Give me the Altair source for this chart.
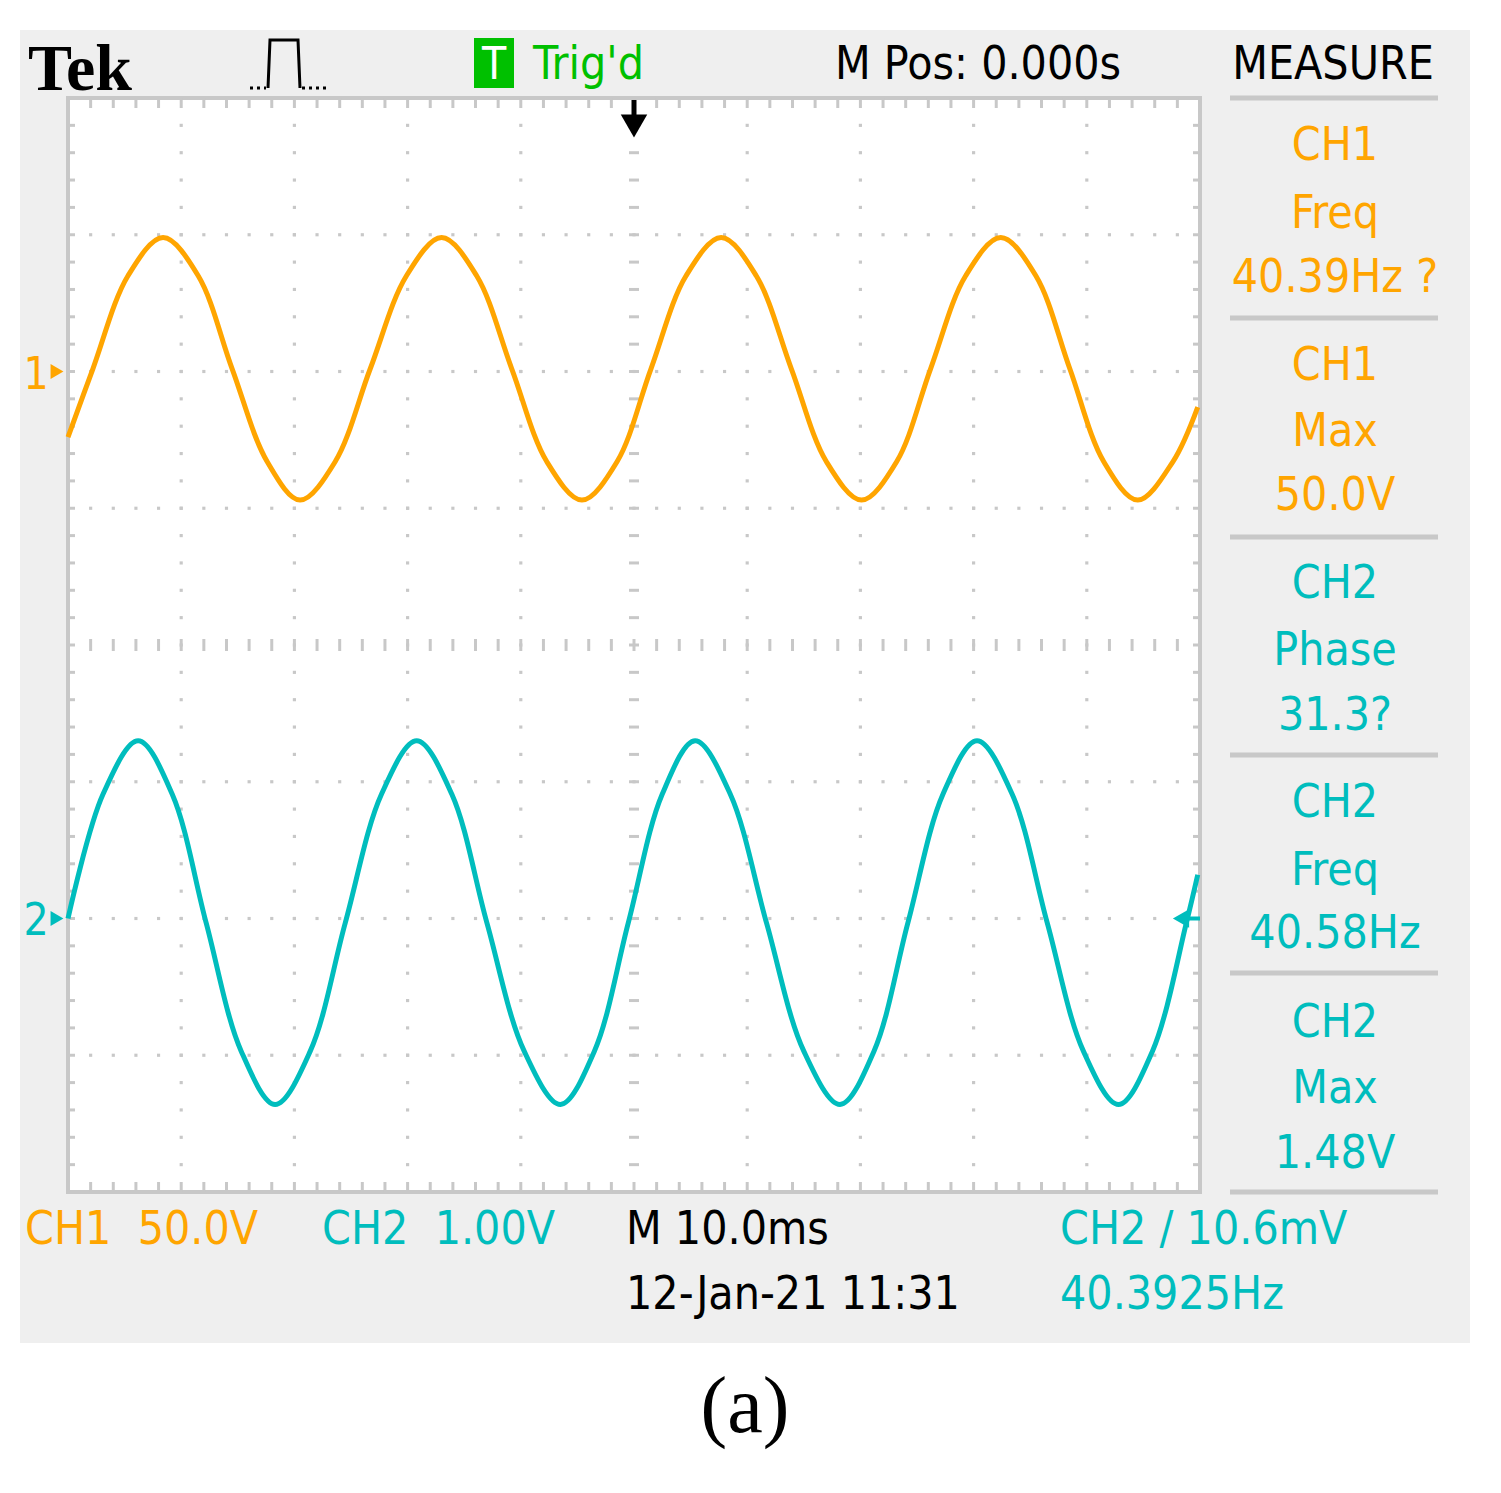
import altair as alt
import pandas as pd
import numpy as np

# ---------------- data (divisions) ----------------
ch1_t = [0.00, 0.22, 0.53, 0.84, 1.15, 1.45, 1.76, 2.05, 2.36, 2.67, 2.99, 3.30,
         3.61, 3.92, 4.23, 4.54, 4.85, 5.15, 5.46, 5.77, 6.08, 6.39, 6.70, 7.01,
         7.32, 7.62, 7.93, 8.24, 8.55, 8.85, 9.15, 9.45, 9.76, 9.98]
ch1_v = [1.52, 2.02, 2.70, 2.98, 2.70, 2.02, 1.34, 1.06, 1.34, 2.02, 2.70, 2.98,
         2.70, 2.02, 1.34, 1.06, 1.34, 2.02, 2.70, 2.98, 2.70, 2.02, 1.34, 1.06,
         1.34, 2.02, 2.70, 2.98, 2.70, 2.02, 1.34, 1.06, 1.34, 1.74]

ch2_t = [0.00, 0.31, 0.62, 0.92, 1.22, 1.53, 1.83, 2.14, 2.45, 2.77, 3.08, 3.39,
         3.70, 4.03, 4.35, 4.65, 4.95, 5.25, 5.54, 5.85, 6.17, 6.50, 6.82, 7.12,
         7.42, 7.73, 8.03, 8.34, 8.65, 8.97, 9.28, 9.58, 9.88, 9.98]
ch2_v = [-2.00, -1.09, -0.70, -1.09, -2.03, -2.97, -3.36, -2.97, -2.03, -1.09, -0.70, -1.09,
         -2.03, -2.97, -3.36, -2.97, -2.03, -1.09, -0.70, -1.09, -2.03, -2.97, -3.36, -2.97,
         -2.03, -1.09, -0.70, -1.09, -2.03, -2.97, -3.36, -2.97, -2.03, -1.68]

measure_text = ["CH1", "Freq", "40.39Hz ?", "CH1", "Max", "50.0V",
                "CH2", "Phase", "31.3?", "CH2", "Freq", "40.58Hz",
                "CH2", "Max", "1.48V"]
measure_chan = ["CH1"] * 6 + ["CH2"] * 9

top_text = ["Trig'd", "M Pos: 0.000s", "MEASURE"]
top_chan = ["TRIG", "BLACK", "BLACK"]

bottom_text = ["CH1\u00a0\u00a050.0V", "CH2\u00a0\u00a01.00V", "M 10.0ms", "12-Jan-21 11:31",
               "CH2 / 10.6mV", "40.3925Hz"]
bottom_chan = ["CH1", "CH2", "BLACK", "BLACK", "CH2", "CH2"]

# ---------------- styling / layout ----------------
ORANGE = "#ffa500"
TEAL = "#00bdbd"
GREEN = "#00c000"
GRAY = "#c8c8c8"
BG = "#efefef"
colors = {"CH1": ORANGE, "CH2": TEAL, "BLACK": "#000000", "TRIG": GREEN}

X0, Y0 = 68, 98          # plot origin in page px
W, H = 1132, 1094        # plot size
DX, DY = W / 10.0, H / 8.0
NARROW = "DejaVu Sans Condensed, DejaVu Sans, sans-serif"
FS = 46


def t_of(px):
    return (px - X0) / DX


def v_of(py):
    return 4 - (py - Y0) / DY


xs = alt.Scale(domain=[0, 10], nice=False, zero=False)
ys = alt.Scale(domain=[-4, 4], nice=False, zero=False)
X = lambda f: alt.X(f, type="quantitative", scale=xs, axis=None)
Y = lambda f: alt.Y(f, type="quantitative", scale=ys, axis=None)

one = pd.DataFrame({"d": [0]})

# background panel
bg = alt.Chart(one).mark_rect(color=BG).encode(
    x=alt.value(20 - X0), x2=alt.value(1470 - X0),
    y=alt.value(30 - Y0), y2=alt.value(1343 - Y0))

screen = alt.Chart(one).mark_rect(fill="white", stroke=GRAY, strokeWidth=4).encode(
    x=alt.value(0), x2=alt.value(W), y=alt.value(0), y2=alt.value(H))

# measurement separators
sep_py = [98, 318, 537, 755, 973, 1192]
sep_df = pd.DataFrame({"t": [t_of(1230)] * 6, "t2": [t_of(1438)] * 6,
                       "v": [v_of(p) for p in sep_py]})
seps = alt.Chart(sep_df).mark_rule(color=GRAY, strokeWidth=5).encode(
    x=X("t"), x2="t2", y=Y("v"))

# graticule dots
minor_x = np.round(np.arange(0.2, 10, 0.2), 3)
minor_y = np.round(np.arange(-3.8, 4, 0.2), 3)
dots = []
for gx in [1, 2, 3, 4, 6, 7, 8, 9]:
    for yv in minor_y:
        dots.append((gx, yv))
for gy in [-3, -2, -1, 1, 2, 3]:
    for xv in minor_x:
        dots.append((xv, gy))
dots_df = pd.DataFrame(dots, columns=["t", "v"])
dot_layer = alt.Chart(dots_df).mark_square(size=10, color=GRAY, opacity=1).encode(
    x=X("t"), y=Y("v"))

# tick rules: vertical ones (top/bottom border, center horizontal line)
vt = []
for xv in minor_x:
    vt.append((xv, 4, 4 - 10 / DY))
    vt.append((xv, -4, -4 + 10 / DY))
    vt.append((xv, -6 / DY, 6 / DY))
vt_df = pd.DataFrame(vt, columns=["t", "v", "v2"])
vt_layer = alt.Chart(vt_df).mark_rule(color=GRAY, strokeWidth=3).encode(
    x=X("t"), y=Y("v"), y2="v2")

ht = []
for yv in minor_y:
    ht.append((0, 7 / DX, yv))
    ht.append((10, 10 - 7 / DX, yv))
    ht.append((5 - 5 / DX, 5 + 5 / DX, yv))
ht_df = pd.DataFrame(ht, columns=["t", "t2", "v"])
ht_layer = alt.Chart(ht_df).mark_rule(color=GRAY, strokeWidth=3).encode(
    x=X("t"), x2="t2", y=Y("v"))

# waveforms
ch1_df = pd.DataFrame({"t": ch1_t, "v": ch1_v})
ch2_df = pd.DataFrame({"t": ch2_t, "v": ch2_v})
ch1 = alt.Chart(ch1_df).mark_line(color=ORANGE, strokeWidth=5, interpolate="catmull-rom",
                                  strokeJoin="round").encode(x=X("t"), y=Y("v"), order="t")
ch2 = alt.Chart(ch2_df).mark_line(color=TEAL, strokeWidth=5, interpolate="catmull-rom",
                                  strokeJoin="round").encode(x=X("t"), y=Y("v"), order="t")

# measure panel text
meas_base = [160, 228, 292, 380, 446, 510, 598, 665, 730, 817, 885, 948, 1037, 1103, 1168]
meas_df = pd.DataFrame({"txt": measure_text,
                        "col": [colors[c] for c in measure_chan],
                        "t": [t_of(1335)] * len(measure_text),
                        "v": [v_of(b) for b in meas_base]})
meas = alt.Chart(meas_df).mark_text(font=NARROW, fontSize=FS, align="center",
                                    baseline="alphabetic").encode(
    x=X("t"), y=Y("v"), text="txt:N", color=alt.Color("col:N", scale=None))

# top row text
top_px = [533, 835, 1333]
top_align = ["left", "left", "center"]
top_layers = []
for txt, ch, px, al in zip(top_text, top_chan, top_px, top_align):
    d = pd.DataFrame({"txt": [txt], "t": [t_of(px)], "v": [v_of(79)]})
    top_layers.append(alt.Chart(d).mark_text(font=NARROW, fontSize=FS, align=al,
                                             baseline="alphabetic", color=colors[ch]).encode(
        x=X("t"), y=Y("v"), text="txt:N"))

tek = alt.Chart(pd.DataFrame({"txt": ["Tek"], "t": [t_of(28)], "v": [v_of(90)]})).mark_text(
    font="Liberation Serif", fontWeight="bold", fontSize=66, align="left",
    baseline="alphabetic", color="black").encode(x=X("t"), y=Y("v"), text="txt:N")

tbox = alt.Chart(one).mark_rect(color=GREEN).encode(
    x=alt.value(474 - X0), x2=alt.value(514 - X0), y=alt.value(38 - Y0), y2=alt.value(88 - Y0))
tletter = alt.Chart(pd.DataFrame({"txt": ["T"], "t": [t_of(494)], "v": [v_of(79)]})).mark_text(
    font=NARROW, fontSize=44, align="center", baseline="alphabetic", color="white").encode(
    x=X("t"), y=Y("v"), text="txt:N")

# pulse icon
pulse_px = [268, 270, 298, 300]
pulse_py = [88, 40, 40, 88]
pulse_df = pd.DataFrame({"t": [t_of(p) for p in pulse_px], "v": [v_of(p) for p in pulse_py],
                         "o": range(4)})
pulse = alt.Chart(pulse_df).mark_line(color="black", strokeWidth=3).encode(
    x=X("t"), y=Y("v"), order="o")
pbase_df = pd.DataFrame({"t": [t_of(250), t_of(302)],
                         "t2": [t_of(266), t_of(330)],
                         "v": [v_of(88)] * 2})
pbase = alt.Chart(pbase_df).mark_rule(color="black", strokeWidth=3, strokeDash=[3, 4]).encode(
    x=X("t"), x2="t2", y=Y("v"))

# bottom row text
bot_px = [25, 322, 626, 626, 1060, 1060]
bot_base = [1244, 1244, 1244, 1309, 1244, 1309]
bot_df = pd.DataFrame({"txt": bottom_text, "col": [colors[c] for c in bottom_chan],
                       "t": [t_of(p) for p in bot_px], "v": [v_of(b) for b in bot_base]})
bottom = alt.Chart(bot_df).mark_text(font=NARROW, fontSize=FS, align="left",
                                     baseline="alphabetic").encode(
    x=X("t"), y=Y("v"), text="txt:N", color=alt.Color("col:N", scale=None))

caption = alt.Chart(pd.DataFrame({"txt": ["(a)"], "t": [t_of(745)], "v": [v_of(1432)]})).mark_text(
    font="Liberation Serif", fontSize=80, align="center", baseline="alphabetic",
    color="black").encode(x=X("t"), y=Y("v"), text="txt:N")

# channel markers
mk_df = pd.DataFrame({"txt": ["1", "2"], "col": [ORANGE, TEAL],
                      "t": [t_of(36), t_of(36)], "v": [v_of(389), v_of(935)]})
mk_txt = alt.Chart(mk_df).mark_text(font=NARROW, fontSize=44, align="center",
                                    baseline="alphabetic").encode(
    x=X("t"), y=Y("v"), text="txt:N", color=alt.Color("col:N", scale=None))
mk_arrow_df = pd.DataFrame({"col": [ORANGE, TEAL], "t": [t_of(57), t_of(57)],
                            "v": [2.0, -2.0]})
mk_arrow = alt.Chart(mk_arrow_df).mark_point(shape="triangle-right", filled=True, size=220,
                                             opacity=1).encode(
    x=X("t"), y=Y("v"), color=alt.Color("col:N", scale=None))

# trigger markers
trig_rule = alt.Chart(pd.DataFrame({"t": [5.0], "v": [v_of(100)], "v2": [v_of(122)]})).mark_rule(
    color="black", strokeWidth=5).encode(x=X("t"), y=Y("v"), y2="v2")
trig_head = alt.Chart(pd.DataFrame({"t": [5.0], "v": [v_of(126)]})).mark_point(
    shape="triangle-down", filled=True, size=700, color="black", opacity=1).encode(
    x=X("t"), y=Y("v"))
lvl_head = alt.Chart(pd.DataFrame({"t": [t_of(1181)], "v": [-2.0]})).mark_point(
    shape="triangle-left", filled=True, size=350, color=TEAL, opacity=1).encode(
    x=X("t"), y=Y("v"))
lvl_rule = alt.Chart(pd.DataFrame({"t": [t_of(1183)], "t2": [10.0], "v": [-2.0]})).mark_rule(
    color=TEAL, strokeWidth=4).encode(x=X("t"), x2="t2", y=Y("v"))

chart = alt.layer(
    bg, screen, seps, dot_layer, vt_layer, ht_layer,
    ch1, ch2, meas, *top_layers, tek, tbox, tletter, pulse, pbase,
    bottom, caption, mk_txt, mk_arrow, trig_rule, trig_head, lvl_head, lvl_rule
).properties(
    width=W, height=H,
    padding={"left": 60, "top": 90, "right": 290, "bottom": 280},
    autosize=alt.AutoSizeParams(type="none"),
    background="white",
).configure_view(stroke=None)

chart.save("out.html", embed_options={"renderer": "svg", "actions": False})
